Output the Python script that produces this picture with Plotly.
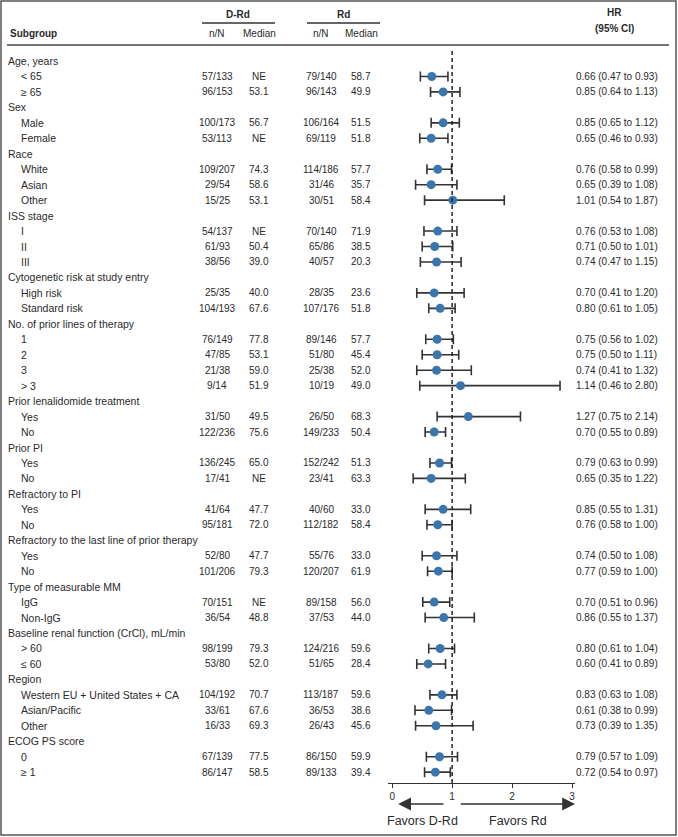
import plotly.graph_objects as go

# ---------------- data ----------------
subgroups = [
    "Age, years", "< 65", "≥ 65",
    "Sex", "Male", "Female",
    "Race", "White", "Asian", "Other",
    "ISS stage", "I", "II", "III",
    "Cytogenetic risk at study entry", "High risk", "Standard risk",
    "No. of prior lines of therapy", "1", "2", "3", "> 3",
    "Prior lenalidomide treatment", "Yes", "No",
    "Prior PI", "Yes", "No",
    "Refractory to PI", "Yes", "No",
    "Refractory to the last line of prior therapy", "Yes", "No",
    "Type of measurable MM", "IgG", "Non-IgG",
    "Baseline renal function (CrCl), mL/min", "> 60", "≤ 60",
    "Region", "Western EU + United States + CA", "Asian/Pacific", "Other",
    "ECOG PS score", "0", "≥ 1",
]
drd_nN = [
    None, "57/133", "96/153",
    None, "100/173", "53/113",
    None, "109/207", "29/54", "15/25",
    None, "54/137", "61/93", "38/56",
    None, "25/35", "104/193",
    None, "76/149", "47/85", "21/38", "9/14",
    None, "31/50", "122/236",
    None, "136/245", "17/41",
    None, "41/64", "95/181",
    None, "52/80", "101/206",
    None, "70/151", "36/54",
    None, "98/199", "53/80",
    None, "104/192", "33/61", "16/33",
    None, "67/139", "86/147",
]
drd_median = [
    None, "NE", "53.1",
    None, "56.7", "NE",
    None, "74.3", "58.6", "53.1",
    None, "NE", "50.4", "39.0",
    None, "40.0", "67.6",
    None, "77.8", "53.1", "59.0", "51.9",
    None, "49.5", "75.6",
    None, "65.0", "NE",
    None, "47.7", "72.0",
    None, "47.7", "79.3",
    None, "NE", "48.8",
    None, "79.3", "52.0",
    None, "70.7", "67.6", "69.3",
    None, "77.5", "58.5",
]
rd_nN = [
    None, "79/140", "96/143",
    None, "106/164", "69/119",
    None, "114/186", "31/46", "30/51",
    None, "70/140", "65/86", "40/57",
    None, "28/35", "107/176",
    None, "89/146", "51/80", "25/38", "10/19",
    None, "26/50", "149/233",
    None, "152/242", "23/41",
    None, "40/60", "112/182",
    None, "55/76", "120/207",
    None, "89/158", "37/53",
    None, "124/216", "51/65",
    None, "113/187", "36/53", "26/43",
    None, "86/150", "89/133",
]
rd_median = [
    None, "58.7", "49.9",
    None, "51.5", "51.8",
    None, "57.7", "35.7", "58.4",
    None, "71.9", "38.5", "20.3",
    None, "23.6", "51.8",
    None, "57.7", "45.4", "52.0", "49.0",
    None, "68.3", "50.4",
    None, "51.3", "63.3",
    None, "33.0", "58.4",
    None, "33.0", "61.9",
    None, "56.0", "44.0",
    None, "59.6", "28.4",
    None, "59.6", "38.6", "45.6",
    None, "59.9", "39.4",
]
hr = [
    None, 0.66, 0.85,
    None, 0.85, 0.65,
    None, 0.76, 0.65, 1.01,
    None, 0.76, 0.71, 0.74,
    None, 0.70, 0.80,
    None, 0.75, 0.75, 0.74, 1.14,
    None, 1.27, 0.70,
    None, 0.79, 0.65,
    None, 0.85, 0.76,
    None, 0.74, 0.77,
    None, 0.70, 0.86,
    None, 0.80, 0.60,
    None, 0.83, 0.61, 0.73,
    None, 0.79, 0.72,
]
hr_low = [
    None, 0.47, 0.64,
    None, 0.65, 0.46,
    None, 0.58, 0.39, 0.54,
    None, 0.53, 0.50, 0.47,
    None, 0.41, 0.61,
    None, 0.56, 0.50, 0.41, 0.46,
    None, 0.75, 0.55,
    None, 0.63, 0.35,
    None, 0.55, 0.58,
    None, 0.50, 0.59,
    None, 0.51, 0.55,
    None, 0.61, 0.41,
    None, 0.63, 0.38, 0.39,
    None, 0.57, 0.54,
]
hr_high = [
    None, 0.93, 1.13,
    None, 1.12, 0.93,
    None, 0.99, 1.08, 1.87,
    None, 1.08, 1.01, 1.15,
    None, 1.20, 1.05,
    None, 1.02, 1.11, 1.32, 2.80,
    None, 2.14, 0.89,
    None, 0.99, 1.22,
    None, 1.31, 1.00,
    None, 1.08, 1.00,
    None, 0.96, 1.37,
    None, 1.04, 0.89,
    None, 1.08, 0.99, 1.35,
    None, 1.09, 0.97,
]
x_ticks = [0, 1, 2, 3]
favor_labels = ["Favors D-Rd", "Favors Rd"]

# ---------------- layout helpers ----------------
W, H = 678, 837
FONT = "Liberation Sans, Arial, sans-serif"
TXT = "#2a2a2a"
ROW0_PX, ROW_STEP = 61.0, 15.46   # pixel position of first row, row spacing


def px(x):
    return x / W


def py(y):
    return 1 - y / H


n = len(subgroups)
ys = [-i for i in range(n)]
y_max = ROW0_PX / ROW_STEP
y_min = y_max - H / ROW_STEP

fig = go.Figure()

idx = [i for i in range(n) if hr[i] is not None]
fig.add_trace(go.Scatter(
    x=[hr[i] for i in idx],
    y=[ys[i] for i in idx],
    mode="markers",
    marker=dict(color="#3a76ad", size=9, line=dict(width=0)),
    error_x=dict(
        type="data", symmetric=False,
        array=[hr_high[i] - hr[i] for i in idx],
        arrayminus=[hr[i] - hr_low[i] for i in idx],
        color="#333333", thickness=1.6, width=5,
    ),
    hoverinfo="skip",
    showlegend=False,
))

ann = []


def add_text(text, x, y, xanchor="left", yref="y", size=10, bold=False):
    ann.append(dict(
        text=f"<b>{text}</b>" if bold else text,
        x=x, y=y, xref="paper", yref=yref,
        xanchor=xanchor, yanchor="middle", showarrow=False,
        font=dict(family=FONT, size=size, color=TXT),
    ))


# header
add_text("Subgroup", px(8), py(34), yref="paper", bold=True)
add_text("D-Rd", px(238), py(14), "center", yref="paper", bold=True)
add_text("Rd", px(343), py(14), "center", yref="paper", bold=True)
add_text("n/N", px(217), py(34), "center", yref="paper")
add_text("Median", px(259), py(34), "center", yref="paper")
add_text("n/N", px(321), py(34), "center", yref="paper")
add_text("Median", px(361), py(34), "center", yref="paper")
add_text("HR", px(614), py(13), "center", yref="paper", bold=True)
add_text("(95% CI)", px(614), py(28), "center", yref="paper", bold=True)

for i in range(n):
    is_head = hr[i] is None
    add_text(subgroups[i], px(6 if is_head else 19), ys[i], size=10.5)
    if not is_head:
        add_text(drd_nN[i], px(217), ys[i], "center")
        add_text(drd_median[i], px(259), ys[i], "center")
        add_text(rd_nN[i], px(321), ys[i], "center")
        add_text(rd_median[i], px(361), ys[i], "center")
        add_text(f"{hr[i]:.2f} ({hr_low[i]:.2f} to {hr_high[i]:.2f})", px(574), ys[i])

# favors arrows and labels
arrow_y = py(804)
ann.append(dict(x=0.1, y=arrow_y, ax=0.88, ay=0, xref="x", yref="paper",
                axref="x", ayref="pixel", showarrow=True, arrowhead=2,
                arrowsize=1.6, arrowwidth=1.6, arrowcolor="#333333", text=""))
ann.append(dict(x=3.05, y=arrow_y, ax=1.12, ay=0, xref="x", yref="paper",
                axref="x", ayref="pixel", showarrow=True, arrowhead=2,
                arrowsize=1.6, arrowwidth=1.6, arrowcolor="#333333", text=""))
for lbl, xc in zip(favor_labels, [0.5, 2.1]):
    ann.append(dict(text=lbl, x=xc, y=py(821), xref="x", yref="paper",
                    xanchor="center", yanchor="middle", showarrow=False,
                    font=dict(family=FONT, size=12.5, color=TXT)))

shapes = [
    # outer frame
    dict(type="rect", xref="paper", yref="paper", x0=px(1), x1=px(676),
         y0=py(835), y1=py(1), line=dict(color="#555555", width=1.5)),
    # header rules
    dict(type="line", xref="paper", yref="paper", x0=px(202), x1=px(275),
         y0=py(23), y1=py(23), line=dict(color="#333333", width=1.5)),
    dict(type="line", xref="paper", yref="paper", x0=px(307), x1=px(380),
         y0=py(23), y1=py(23), line=dict(color="#333333", width=1.5)),
    dict(type="line", xref="paper", yref="paper", x0=px(7), x1=px(669),
         y0=py(45), y1=py(45), line=dict(color="#444444", width=1.5)),
    # reference line at HR = 1
    dict(type="line", xref="x", yref="paper", x0=1, x1=1,
         y0=py(783), y1=py(48), line=dict(color="#222222", width=1.5, dash="4px,3px")),
]

fig.update_layout(
    width=W, height=H,
    margin=dict(l=0, r=0, t=0, b=0),
    paper_bgcolor="white", plot_bgcolor="rgba(0,0,0,0)",
    font=dict(family=FONT, size=10, color=TXT),
    annotations=ann,
    shapes=shapes,
    xaxis=dict(
        domain=[px(388), px(575)], range=[-0.07, 3.05],
        anchor="free", position=py(783),
        showgrid=False, zeroline=False,
        showline=True, linecolor="#333333", linewidth=1.3,
        ticks="outside", ticklen=4, tickwidth=1.2, tickcolor="#333333",
        tickvals=x_ticks, ticktext=[str(t) for t in x_ticks],
        tickfont=dict(family=FONT, size=10, color=TXT),
    ),
    yaxis=dict(
        domain=[0, 1], range=[y_min, y_max],
        visible=False, showgrid=False, zeroline=False, fixedrange=True,
    ),
)

fig.write_html(
    "out.html",
    config={"displayModeBar": False},
    post_script="document.body.style.margin='0px';document.body.style.overflow='hidden';",
)
